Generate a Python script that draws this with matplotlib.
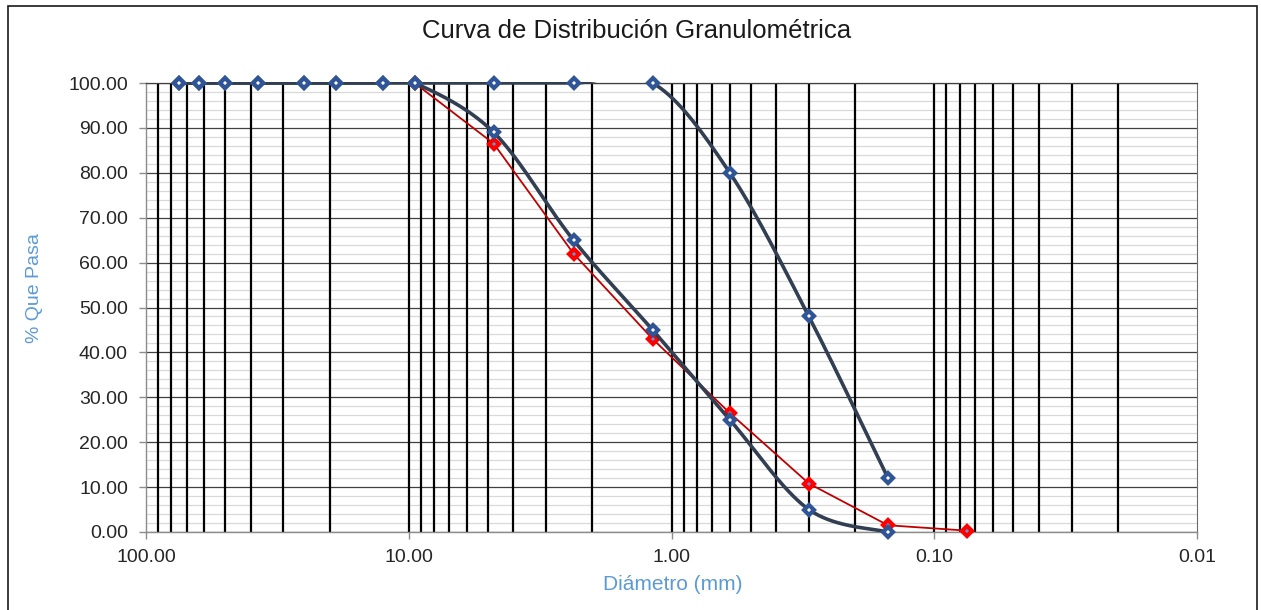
import numpy as np
import matplotlib
matplotlib.use('Agg')
import matplotlib.pyplot as plt
from matplotlib.patches import Rectangle
from matplotlib.ticker import FixedLocator, MultipleLocator, FuncFormatter, NullLocator

plt.rcParams['font.family'] = ['Liberation Sans', 'DejaVu Sans']

# ---- data ----
title = "Curva de Distribución Granulométrica"
x_label = "Diámetro (mm)"
y_label = "% Que Pasa"

sizes_upper = [75, 63, 50, 37.5, 25, 19, 12.5, 9.5, 4.75, 2.36, 1.18, 0.6, 0.3, 0.15]
pass_upper = [100, 100, 100, 100, 100, 100, 100, 100, 100, 100, 100, 80, 48, 12]

sizes_lower = [75, 63, 50, 37.5, 25, 19, 12.5, 9.5, 4.75, 2.36, 1.18, 0.6, 0.3, 0.15]
pass_lower = [100, 100, 100, 100, 100, 100, 100, 100, 89, 65, 45, 25, 5, 0]

sizes_sample = [9.5, 4.75, 2.36, 1.18, 0.6, 0.3, 0.15, 0.075]
pass_sample = [100, 86.5, 62, 43, 26.5, 10.8, 1.5, 0.3]

x_ticks = [100, 10, 1, 0.1, 0.01]


def excel_smooth(xs, ys, n=60):
    pts = np.column_stack([np.log10(xs), ys])
    P = np.vstack([pts[0], pts, pts[-1]])
    segs = []
    t = np.linspace(0, 1, n)[:, None]
    for i in range(1, len(P) - 2):
        p0, p1, p2, p3 = P[i - 1], P[i], P[i + 1], P[i + 2]
        c1 = p1 + (p2 - p0) / 6.0
        c2 = p2 - (p3 - p1) / 6.0
        seg = ((1 - t) ** 3) * p1 + 3 * ((1 - t) ** 2) * t * c1 + 3 * (1 - t) * t ** 2 * c2 + t ** 3 * p2
        segs.append(seg)
    c = np.vstack(segs)
    return 10 ** c[:, 0], c[:, 1]


W, H = 1261, 610
fig = plt.figure(figsize=(W / 100, H / 100), dpi=100)
fig.patch.set_facecolor('white')

L, R, T, B = 146, 1197, 83, 532
ax = fig.add_axes([L / W, 1 - B / H, (R - L) / W, (B - T) / H])
ax.set_xscale('log')
ax.set_xlim(100, 0.01)
ax.set_ylim(0, 100)

# horizontal grid
ax.yaxis.set_major_locator(MultipleLocator(10))
ax.yaxis.set_minor_locator(MultipleLocator(2))
ax.yaxis.grid(True, which='minor', color='#d9d9d9', lw=0.9)
ax.yaxis.grid(True, which='major', color='#404040', lw=0.9)
ax.set_axisbelow(True)
ax.tick_params(axis='y', which='minor', length=0)

# vertical black lines (log grid inside the range)
grid_x = []
for dec in [10, 1, 0.1, 0.01]:
    grid_x.extend(list(dec * np.arange(2, 10)))
grid_x.extend([10, 1, 0.1])
ax.vlines(grid_x, 0, 100, colors='black', lw=1.6, zorder=1.5)

ax.xaxis.set_major_locator(FixedLocator(x_ticks))
ax.xaxis.set_minor_locator(NullLocator())
ax.xaxis.set_major_formatter(FuncFormatter(lambda v, p: f"{v:.2f}"))
ax.yaxis.set_major_formatter(FuncFormatter(lambda v, p: f"{v:.2f}"))

ax.tick_params(axis='both', which='major', direction='out', length=5, width=1,
               color='#8c8c8c', labelsize=14, labelcolor='#262626')
ax.tick_params(axis='y', pad=8)
ax.tick_params(axis='x', pad=7)

for s in ['left', 'bottom']:
    ax.spines[s].set_color('#8c8c8c')
    ax.spines[s].set_linewidth(1)
ax.spines['right'].set_color('#6a6a6a')
ax.spines['top'].set_color('#404040')
ax.spines['top'].set_linewidth(0.9)

clip = Rectangle((0, -0.004), 1, 1.006, transform=ax.transAxes, facecolor='none', edgecolor='none')
ax.add_patch(clip)

navy = '#323f52'
blue_m = '#2f5597'

# sample (red)
ln, = ax.plot(sizes_sample, pass_sample, color='#c00000', lw=1.3, zorder=3)
ln.set_clip_path(clip)
ax.plot(sizes_sample, pass_sample, ls='none', marker='D', ms=5.5, mew=3,
        mec='#ff0000', mfc='#5b9bd5', zorder=3.5, clip_on=False)

# limits (smooth navy)
for xs, ys in [(sizes_lower, pass_lower), (sizes_upper, pass_upper)]:
    sx, sy = excel_smooth(xs, ys)
    l2, = ax.plot(sx, sy, color=navy, lw=2.6, zorder=4, solid_capstyle='butt')
    l2.set_clip_path(clip)
for xs, ys in [(sizes_lower, pass_lower), (sizes_upper, pass_upper)]:
    ax.plot(xs, ys, ls='none', marker='D', ms=5.5, mew=3, mec=blue_m, mfc='white',
            zorder=5, clip_on=False)

fig.text(637 / W, 1 - 31 / H, title, ha='center', va='center', fontsize=18.5, color='#1a1a1a')
fig.text(672.5 / W, 1 - 584 / H, x_label, ha='center', va='center', fontsize=15, color='#5b9bd5')
fig.text(34.5 / W, 1 - 288 / H, y_label, ha='center', va='center', fontsize=14,
         color='#5b9bd5', rotation=90)

fig.add_artist(Rectangle((7.5 / W, -0.02), (1256.5 - 7.5) / W, 1.02 - 6 / H,
                         transform=fig.transFigure, fill=False, edgecolor='#1a1a1a', lw=1.2))

fig.savefig('out.png', dpi=100, facecolor='white')
